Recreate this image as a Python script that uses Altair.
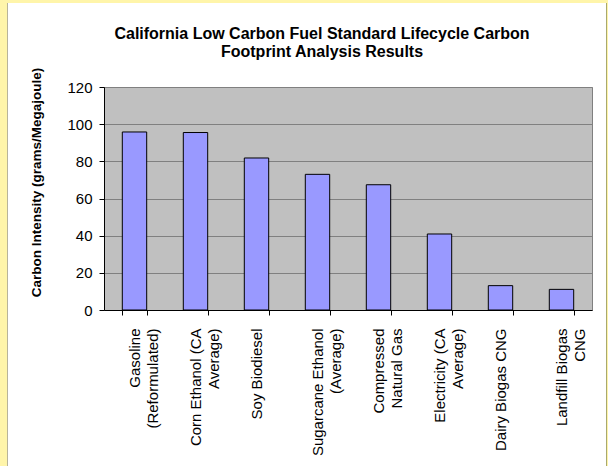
import altair as alt
import pandas as pd

# Fuel pathways (line breaks mark where each axis label wraps)
NB = "\u00a0"
fuels = [
    "Gasoline" + NB * 6 + "\n(Reformulated)",
    "Corn Ethanol (CA\nAverage)",
    "Soy Biodiesel",
    "Sugarcane Ethanol\n(Average)",
    "Compressed\nNatural Gas",
    "Electricity (CA\nAverage)",
    "Dairy Biogas CNG",
    "Landfill Biogas\n" + "CNG" + NB * 8,
]
# Lifecycle carbon intensity, gCO2e per MJ
intensity = [95.8, 95.5, 81.8, 73.0, 67.4, 40.9, 13.1, 11.1]
y_ticks = [0, 20, 40, 60, 80, 100, 120]

df = pd.DataFrame({"fuel": fuels, "ci": intensity})

W, H = 488, 223
PAD_L, PAD_T = 104, 87
FONT = "Liberation Sans"

bars = alt.Chart(df).mark_bar(
    color="#9999FF", stroke="#000000", strokeWidth=1
).encode(
    x=alt.X(
        "fuel:N",
        sort=None,
        scale=alt.Scale(paddingInner=0.6, paddingOuter=0.3),
        axis=alt.Axis(
            title=None,
            labelAngle=270,
            labelExpr="split(datum.label, '\\n')",
            labelFont=FONT,
            labelFontSize=15,
            labelColor="#000000",
            labelLineHeight=18,
            labelPadding=13,
            labelLimit=200,
            tickBand="extent",
            tickSize=5,
            tickColor="#000000",
            domainColor="#000000",
            grid=False,
        ),
    ),
    y=alt.Y(
        "ci:Q",
        scale=alt.Scale(domain=[0, 120], nice=False),
        axis=alt.Axis(
            title="Carbon Intensity (grams/Megajoule)",
            values=y_ticks,
            titleFont=FONT,
            titleFontSize=13.5,
            titleFontWeight="bold",
            titleColor="#000000",
            titleAngle=270,
            titleX=36 - PAD_L,
            titleY=182 - PAD_T,
            titleAlign="center",
            titleBaseline="middle",
            labelFont=FONT,
            labelFontSize=15,
            labelColor="#000000",
            labelPadding=7,
            tickSize=5,
            tickColor="#000000",
            domainColor="#000000",
            gridColor="#808080",
            gridWidth=1,
        ),
    ),
)

# Pale yellow page margin around the white chart frame
frame_src = alt.Data(values=[{"k": 0}])
left_strip = alt.Chart(frame_src).mark_rect(color="#FFF5AA").encode(
    x=alt.value(-PAD_L), x2=alt.value(7 - PAD_L),
    y=alt.value(-PAD_T), y2=alt.value(466 - PAD_T),
)
top_strip = alt.Chart(frame_src).mark_rect(color="#FFF5AA").encode(
    x=alt.value(-PAD_L), x2=alt.value(608 - PAD_L),
    y=alt.value(-PAD_T), y2=alt.value(3 - PAD_T),
)
right_strip = alt.Chart(frame_src).mark_rect(color="#FFF5AA").encode(
    x=alt.value(606 - PAD_L), x2=alt.value(608 - PAD_L),
    y=alt.value(-PAD_T), y2=alt.value(466 - PAD_T),
)
left_edge = alt.Chart(frame_src).mark_rule(color="#B8B49A", strokeWidth=1).encode(
    x=alt.value(7.5 - PAD_L), y=alt.value(3 - PAD_T), y2=alt.value(466 - PAD_T),
)
right_edge = alt.Chart(frame_src).mark_rule(color="#A8A870", strokeWidth=1).encode(
    x=alt.value(606.5 - PAD_L), y=alt.value(3 - PAD_T), y2=alt.value(466 - PAD_T),
)

# The frame strips reach the canvas top, so the title is pulled back down with dy
chart = alt.layer(
    left_strip, top_strip, right_strip, left_edge, right_edge, bars
).properties(
    width=W,
    height=H,
    autosize=alt.AutoSizeParams(type="none"),
    padding={"left": PAD_L, "top": PAD_T, "right": 608 - PAD_L - W, "bottom": 466 - PAD_T - H},
    background="#FFFFFF",
    title=alt.TitleParams(
        text=["California Low Carbon Fuel Standard Lifecycle Carbon",
              "Footprint Analysis Results"],
        font=FONT,
        fontSize=16,
        fontWeight="bold",
        color="#000000",
        lineHeight=18,
        anchor="middle",
        frame="group",
        dx=-26,
        dy=90,
        offset=30,
    ),
).configure_view(
    fill="#C0C0C0",
    stroke="#808080",
    strokeWidth=1,
)

chart.save("out.html", embed_options={"renderer": "svg", "actions": False})
